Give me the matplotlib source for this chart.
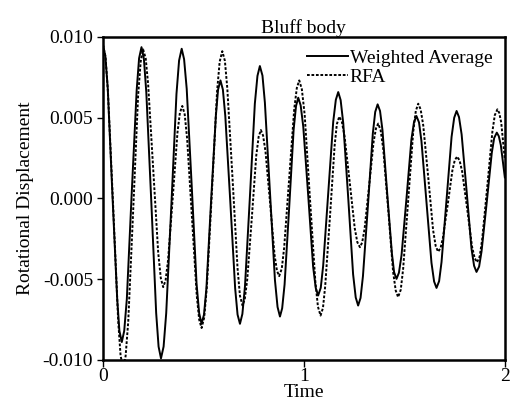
import numpy as np
import matplotlib
matplotlib.use('Agg')
import matplotlib.pyplot as plt
from matplotlib.ticker import FormatStrFormatter

plt.rcParams['font.family'] = ['Liberation Serif', 'DejaVu Serif']
plt.rcParams['font.size'] = 14

# Weighted Average (values in units of 1e-3)
t_wa = [0.000,
        0.012, 0.024, 0.047, 0.071, 0.082, 0.094,
        0.106, 0.119, 0.143, 0.168, 0.180, 0.192,
        0.204, 0.216, 0.241, 0.265, 0.277, 0.289,
        0.302, 0.315, 0.341, 0.366, 0.379, 0.392,
        0.404, 0.417, 0.442, 0.466, 0.479, 0.491,
        0.503, 0.515, 0.538, 0.562, 0.573, 0.585,
        0.597, 0.609, 0.634, 0.658, 0.670, 0.682,
        0.694, 0.707, 0.732, 0.756, 0.769, 0.781,
        0.794, 0.806, 0.831, 0.856, 0.869, 0.881,
        0.892, 0.904, 0.927, 0.949, 0.961, 0.972,
        0.984, 0.997, 1.022, 1.046, 1.059, 1.071,
        1.084, 1.096, 1.121, 1.146, 1.159, 1.171,
        1.183, 1.196, 1.221, 1.245, 1.258, 1.270,
        1.282, 1.294, 1.319, 1.343, 1.355, 1.367,
        1.379, 1.391, 1.414, 1.438, 1.449, 1.461,
        1.473, 1.486, 1.511, 1.535, 1.548, 1.560,
        1.573, 1.585, 1.610, 1.635, 1.648, 1.660,
        1.673, 1.685, 1.710, 1.735, 1.748, 1.760,
        1.772, 1.785, 1.810, 1.834, 1.847, 1.859,
        1.872, 1.884, 1.910, 1.935, 1.947, 1.960,
        1.970, 1.980, 2.000]
wa = [9.52,
      8.82, 6.83, 0.32, -6.20, -8.19, -8.89,
      -8.20, -6.23, 0.24, 6.70, 8.67, 9.36,
      8.63, 6.55, -0.27, -7.09, -9.17, -9.90,
      -9.17, -7.10, -0.32, 6.46, 8.53, 9.26,
      8.61, 6.78, 0.75, -5.28, -7.11, -7.76,
      -7.19, -5.56, -0.23, 5.10, 6.73, 7.30,
      6.73, 5.10, -0.23, -5.56, -7.19, -7.76,
      -7.15, -5.43, 0.22, 5.86, 7.58, 8.19,
      7.60, 5.93, 0.44, -5.05, -6.72, -7.31,
      -6.80, -5.33, -0.54, 4.25, 5.72, 6.23,
      5.76, 4.44, 0.11, -4.22, -5.54, -6.01,
      -5.53, -4.17, 0.29, 4.74, 6.10, 6.58,
      6.08, 4.65, -0.03, -4.70, -6.13, -6.63,
      -6.16, -4.81, -0.41, 4.00, 5.35, 5.82,
      5.41, 4.24, 0.42, -3.40, -4.57, -4.98,
      -4.60, -3.51, 0.06, 3.63, 4.72, 5.10,
      4.70, 3.55, -0.22, -3.99, -5.14, -5.54,
      -5.12, -3.94, -0.07, 3.81, 4.99, 5.41,
      5.03, 3.96, 0.43, -3.10, -4.17, -4.55,
      -4.22, -3.29, -0.24, 2.81, 3.74, 4.07,
      3.85, 3.30, 1.30]

# RFA (values in units of 1e-3)
t_rfa = [0.000,
         0.013, 0.025, 0.051, 0.076, 0.088, 0.101,
         0.113, 0.126, 0.151, 0.175, 0.188, 0.200,
         0.213, 0.225, 0.250, 0.275, 0.288, 0.300,
         0.312, 0.324, 0.348, 0.371, 0.383, 0.395,
         0.407, 0.419, 0.443, 0.467, 0.479, 0.491,
         0.504, 0.517, 0.543, 0.568, 0.581, 0.594,
         0.607, 0.619, 0.645, 0.670, 0.682, 0.695,
         0.706, 0.718, 0.741, 0.763, 0.775, 0.786,
         0.797, 0.809, 0.832, 0.854, 0.866, 0.877,
         0.890, 0.902, 0.927, 0.952, 0.965, 0.977,
         0.990, 1.004, 1.030, 1.057, 1.070, 1.083,
         1.095, 1.106, 1.130, 1.153, 1.164, 1.176,
         1.189, 1.202, 1.228, 1.253, 1.266, 1.279,
         1.290, 1.302, 1.325, 1.347, 1.359, 1.370,
         1.382, 1.395, 1.420, 1.444, 1.457, 1.469,
         1.482, 1.494, 1.519, 1.544, 1.557, 1.569,
         1.581, 1.594, 1.619, 1.643, 1.656, 1.668,
         1.680, 1.692, 1.716, 1.739, 1.751, 1.763,
         1.775, 1.788, 1.813, 1.837, 1.850, 1.862,
         1.875, 1.887, 1.913, 1.938, 1.950, 1.963,
         1.972, 1.982, 2.000]
rfa = [9.52,
       8.76, 6.60, -0.49, -7.58, -9.74, -10.50,
       -9.75, -7.62, -0.64, 6.34, 8.47, 9.22,
       8.66, 7.07, 1.87, -3.34, -4.93, -5.49,
       -5.06, -3.85, 0.12, 4.08, 5.29, 5.72,
       5.20, 3.71, -1.15, -6.01, -7.50, -8.02,
       -7.37, -5.52, 0.55, 6.61, 8.46, 9.11,
       8.51, 6.81, 1.24, -4.33, -6.03, -6.63,
       -6.22, -5.04, -1.20, 2.64, 3.82, 4.23,
       3.89, 2.91, -0.29, -3.49, -4.47, -4.81,
       -4.35, -3.04, 1.25, 5.53, 6.84, 7.30,
       6.75, 5.18, 0.03, -5.13, -6.70, -7.25,
       -6.78, -5.45, -1.10, 3.26, 4.59, 5.06,
       4.75, 3.88, 1.02, -1.84, -2.71, -3.02,
       -2.73, -1.90, 0.81, 3.51, 4.34, 4.63,
       4.22, 3.06, -0.74, -4.54, -5.70, -6.11,
       -5.66, -4.36, -0.13, 4.11, 5.41, 5.86,
       5.51, 4.52, 1.28, -1.96, -2.95, -3.30,
       -3.08, -2.44, -0.36, 1.73, 2.37, 2.59,
       2.34, 1.64, -0.68, -3.00, -3.70, -3.95,
       -3.59, -2.57, 0.78, 4.13, 5.15, 5.51,
       5.30, 4.70, 2.40]

x_ticks = [0, 1, 2]
y_ticks = [-0.010, -0.005, 0.000, 0.005, 0.010]

fig = plt.figure(figsize=(5.12, 4.0), dpi=100)
ax = fig.add_axes([0.201, 0.1, 0.785, 0.808])

ax.plot(t_wa, np.array(wa) * 1e-3, color='black', lw=1.4, label='Weighted Average')
ax.plot(t_rfa, np.array(rfa) * 1e-3, color='black', lw=1.4, ls=(0, (1.4, 0.9)), label='RFA')

ax.set_xlim(0, 2)
ax.set_ylim(-0.010, 0.010)
ax.set_xticks(x_ticks)
ax.set_yticks(y_ticks)
ax.yaxis.set_major_formatter(FormatStrFormatter('%.3f'))
ax.tick_params(direction='out', length=4.5, width=1, pad=2.5, top=False, right=False)
ax.tick_params(axis='x', length=5, pad=1.0)
for s in ax.spines.values():
    s.set_linewidth(1.8)

ax.set_title('Bluff body', fontsize=14, pad=3)
ax.set_xlabel('Time', labelpad=-1)
ax.set_ylabel('Rotational Displacement', labelpad=6)

leg = ax.legend(loc='upper right', frameon=False, handlelength=2.1, handletextpad=0.1,
                borderaxespad=0.45, labelspacing=0.05, borderpad=0.2)

fig.savefig('out.png', dpi=100)
